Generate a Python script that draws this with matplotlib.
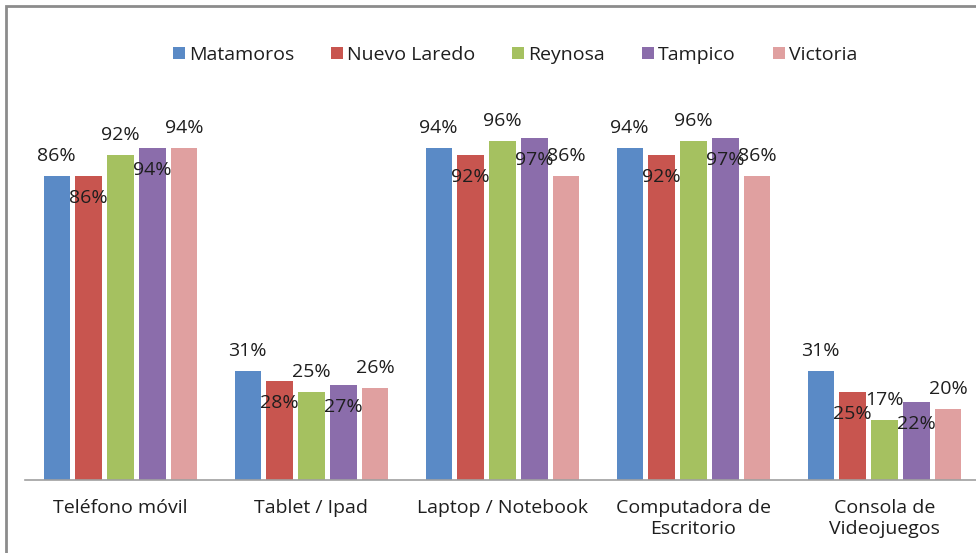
import matplotlib.pyplot as plt
import numpy as np
from matplotlib.patches import Rectangle

plt.rcParams['font.family'] = ['Open Sans', 'DejaVu Sans']

categories = ["Teléfono móvil", "Tablet / Ipad", "Laptop / Notebook",
              "Computadora de\nEscritorio", "Consola de\nVideojuegos"]
cities = ["Matamoros", "Nuevo Laredo", "Reynosa", "Tampico", "Victoria"]

matamoros = [86, 31, 94, 94, 31]
nuevo_laredo = [86, 28, 92, 92, 25]
reynosa = [92, 25, 96, 96, 17]
tampico = [94, 27, 97, 97, 22]
victoria = [94, 26, 86, 86, 20]
series = [matamoros, nuevo_laredo, reynosa, tampico, victoria]

colors = ["#5A8AC6", "#C8554F", "#A5C160", "#8B6DAB", "#E0A0A0"]
text_c = "#1E1E1E"

fig = plt.figure(figsize=(9.76, 5.53), dpi=100)
ax = fig.add_axes([25 / 976, 73 / 553, 955 / 976, 353 / 553])

x = np.arange(len(categories))
step = 0.167
w = 0.138
for i, (name, vals, c) in enumerate(zip(cities, series, colors)):
    pos = x + (i - 2) * step
    bars = ax.bar(pos, vals, width=w, color=c, linewidth=0, label=name)
    for b, v in zip(bars, vals):
        # alternate labels: above the bar top / just inside it
        if i % 2 == 0:
            off, va = 20, "center"
        else:
            off, va = -22, "center"
        ax.annotate(f"{v}%", (b.get_x() + b.get_width() / 2, v),
                    xytext=(0, off), textcoords="offset pixels",
                    ha="center", va=va, fontsize=14, color=text_c,
                    clip_on=False)

ax.set_xlim(-0.5, 4.5)
ax.set_ylim(0, 100)
ax.set_yticks([])
ax.set_xticks(x)
ax.set_xticklabels(categories, fontsize=14, color=text_c,
                   linespacing=1.2)
ax.tick_params(axis="x", length=0, pad=14)
for s in ["top", "right", "left"]:
    ax.spines[s].set_visible(False)
ax.spines["bottom"].set_color("#A0A0A0")
ax.spines["bottom"].set_linewidth(1.2)

fig.legend(loc="center", bbox_to_anchor=(515 / 976, 1 - 55 / 553), ncol=5,
           frameon=False, fontsize=14, handlelength=0.62, handleheight=0.62,
           handletextpad=0.2, columnspacing=1.9, borderaxespad=0,
           labelcolor=text_c)

# outer frame of the chart area
fig.patches.append(Rectangle((6 / 976, -0.1), 1.2, 1.1 - 6 / 553,
                             transform=fig.transFigure, fill=False,
                             edgecolor="#8C8C8C", linewidth=2))

fig.savefig("out.png", dpi=100)
